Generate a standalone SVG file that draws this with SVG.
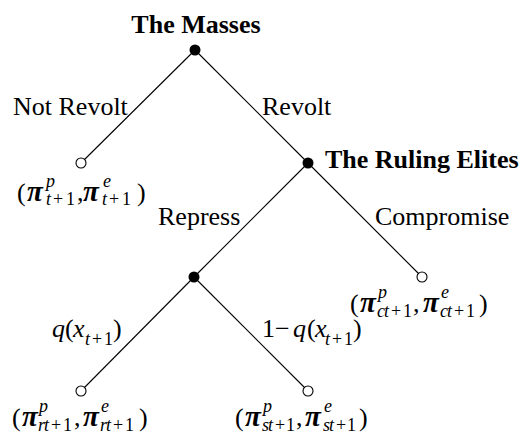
<svg xmlns="http://www.w3.org/2000/svg" width="523" height="437" viewBox="0 0 523 437">
<style>
text{font-family:"Liberation Serif","Times New Roman",serif;font-size:26px;fill:#000}
.b{font-weight:bold}
.i{font-style:italic}
.s{font-size:18px}
.pi{font-style:italic;font-weight:bold;font-size:29px}
.e line{stroke:#000;stroke-width:1.1}
.dec{fill:#000}
.leaf{fill:#fff;stroke:#000;stroke-width:1.1}
</style>
<rect width="523" height="437" fill="#fff"/>
<g id="edges" class="e">
<line x1="195" y1="50" x2="81" y2="163"/>
<line x1="195" y1="50" x2="308" y2="163"/>
<line x1="308" y1="163" x2="194" y2="277"/>
<line x1="308" y1="163" x2="422" y2="277"/>
<line x1="194" y1="277" x2="81" y2="391"/>
<line x1="194" y1="277" x2="308" y2="391"/>
</g>
<g id="edge-labels">
<text x="13" y="115">Not Revolt</text>
<text x="262" y="115">Revolt</text>
<text x="158" y="225">Repress</text>
<text x="375" y="225">Compromise</text>
<text y="337"><tspan x="52" class="i">q</tspan><tspan x="65">(</tspan><tspan x="73" class="i">x</tspan><tspan x="85" y="345" class="s i">t</tspan><tspan x="92" class="s">+</tspan><tspan x="104" class="s">1</tspan><tspan x="113" y="337">)</tspan></text>
<text y="337"><tspan x="262">1</tspan><tspan x="275">−</tspan><tspan x="293" class="i">q</tspan><tspan x="307">(</tspan><tspan x="315" class="i">x</tspan><tspan x="325" y="345" class="s i">t</tspan><tspan x="332" class="s">+</tspan><tspan x="344" class="s">1</tspan><tspan x="353" y="337">)</tspan></text>
</g>
<g id="masses">
<circle class="dec" cx="195" cy="50" r="5.5"/>
<text class="b" x="196" y="33" text-anchor="middle">The Masses</text>
</g>
<g id="elites">
<circle class="dec" cx="308" cy="163" r="5.5"/>
<text class="b" x="325" y="168">The Ruling Elites</text>
</g>
<g id="nature">
<circle class="dec" cx="194" cy="277" r="5.5"/>
</g>
<g id="leaf-notrevolt">
<circle class="leaf" cx="81" cy="163" r="5"/>
<text y="201"><tspan x="17">(</tspan><tspan x="27" class="pi">π</tspan><tspan x="46" y="187" class="s i">p</tspan><tspan x="46" y="205" class="s i">t</tspan><tspan x="53" class="s">+</tspan><tspan x="66" class="s">1</tspan><tspan x="77" y="201">,</tspan><tspan x="83" class="pi">π</tspan><tspan x="103" y="187" class="s i">e</tspan><tspan x="102" y="205" class="s i">t</tspan><tspan x="109" class="s">+</tspan><tspan x="122" class="s">1</tspan><tspan x="137" y="201">)</tspan></text>
</g>
<g id="leaf-compromise">
<circle class="leaf" cx="422" cy="277" r="5"/>
<text y="312"><tspan x="350">(</tspan><tspan x="360" class="pi">π</tspan><tspan x="378" y="298" class="s i">p</tspan><tspan x="377" y="317" class="s i">c</tspan><tspan x="384" class="s i">t</tspan><tspan x="391" class="s">+</tspan><tspan x="403" class="s">1</tspan><tspan x="413" y="312">,</tspan><tspan x="423" class="pi">π</tspan><tspan x="441" y="298" class="s i">e</tspan><tspan x="440" y="317" class="s i">c</tspan><tspan x="447" class="s i">t</tspan><tspan x="454" class="s">+</tspan><tspan x="466" class="s">1</tspan><tspan x="479" y="312">)</tspan></text>
</g>
<g id="leaf-repress-revolt">
<circle class="leaf" cx="81" cy="391" r="5"/>
<text y="426"><tspan x="12">(</tspan><tspan x="22" class="pi">π</tspan><tspan x="39" y="412" class="s i">p</tspan><tspan x="38" y="431" class="s i">r</tspan><tspan x="44" class="s i">t</tspan><tspan x="51" class="s">+</tspan><tspan x="63" class="s">1</tspan><tspan x="74" y="426">,</tspan><tspan x="83" class="pi">π</tspan><tspan x="101" y="412" class="s i">e</tspan><tspan x="100" y="431" class="s i">r</tspan><tspan x="106" class="s i">t</tspan><tspan x="113" class="s">+</tspan><tspan x="125" class="s">1</tspan><tspan x="139" y="426">)</tspan></text>
</g>
<g id="leaf-repress-fail">
<circle class="leaf" cx="308" cy="391" r="5"/>
<text y="426"><tspan x="235">(</tspan><tspan x="245" class="pi">π</tspan><tspan x="263" y="412" class="s i">p</tspan><tspan x="262" y="431" class="s i">s</tspan><tspan x="268" class="s i">t</tspan><tspan x="275" class="s">+</tspan><tspan x="286" class="s">1</tspan><tspan x="296" y="426">,</tspan><tspan x="305" class="pi">π</tspan><tspan x="324" y="412" class="s i">e</tspan><tspan x="323" y="431" class="s i">s</tspan><tspan x="329" class="s i">t</tspan><tspan x="336" class="s">+</tspan><tspan x="347" class="s">1</tspan><tspan x="359" y="426">)</tspan></text>
</g>
</svg>
